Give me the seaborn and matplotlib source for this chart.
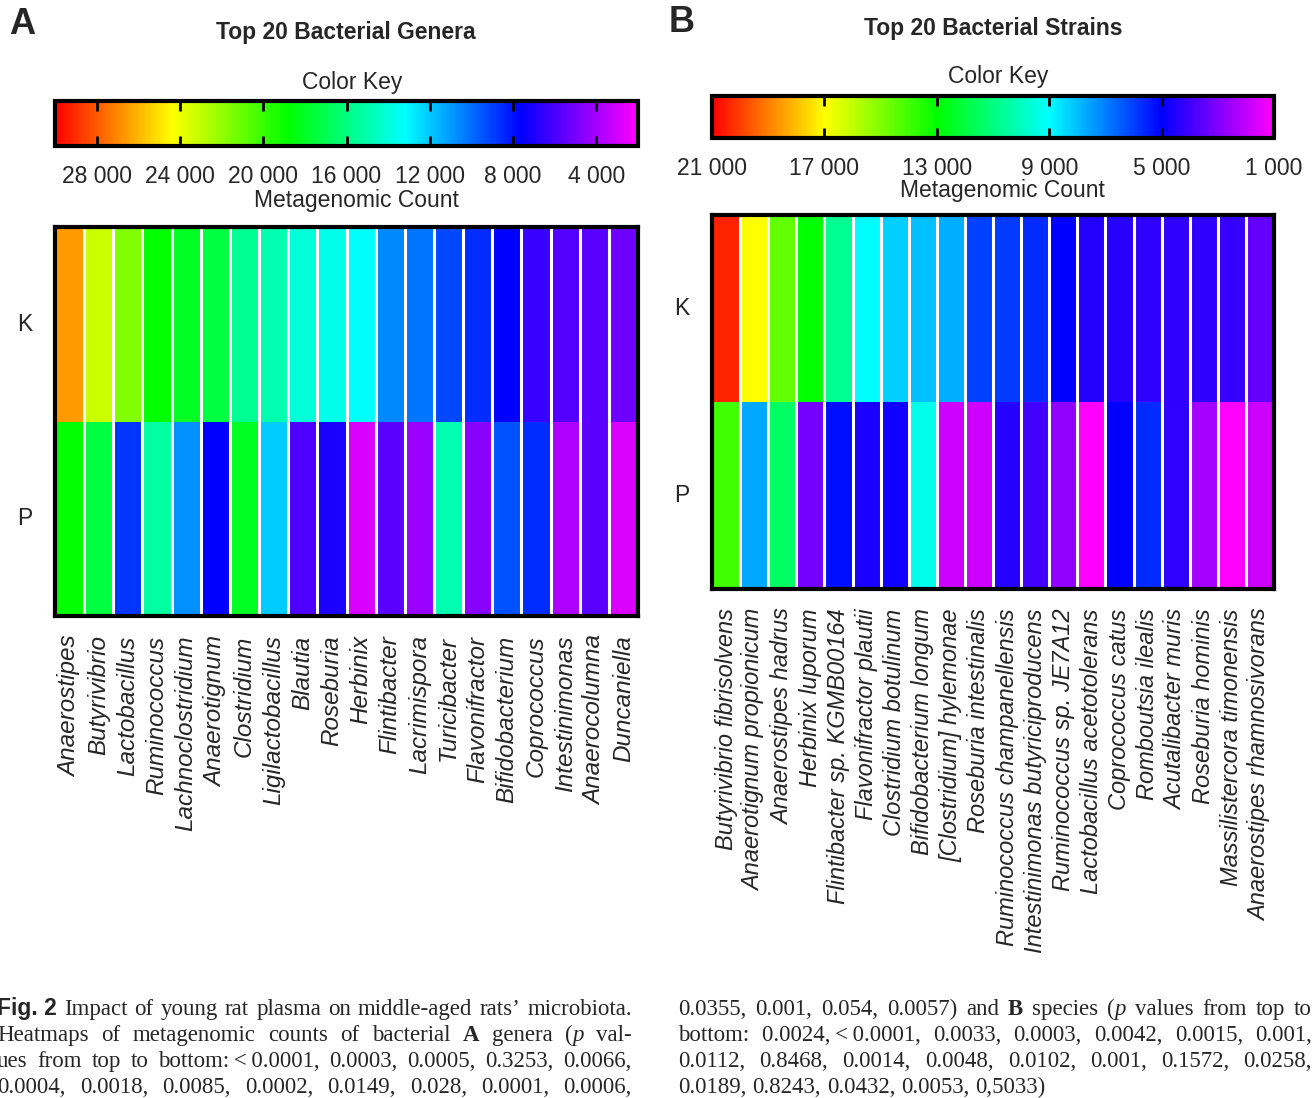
import numpy as np
import pandas as pd
import matplotlib
matplotlib.use("Agg")
import matplotlib.pyplot as plt
import seaborn as sns
from matplotlib.colors import ListedColormap, Normalize, hsv_to_rgb
from matplotlib.cm import ScalarMappable

# ---------------- data ----------------
rows = ["K", "P"]

genera = ["Anaerostipes", "Butyrivibrio", "Lactobacillus", "Ruminococcus",
          "Lachnoclostridium", "Anaerotignum", "Clostridium", "Ligilactobacillus",
          "Blautia", "Roseburia", "Herbinix", "Flintibacter", "Lacrimispora",
          "Turicibacter", "Flavonifractor", "Bifidobacterium", "Coprococcus",
          "Intestinimonas", "Anaerocolumna", "Duncaniella"]
genera_K = [26600, 23200, 21600, 18800, 18050, 17400, 15600, 15000, 14050, 13650,
            13200, 10600, 10200, 9200, 8600, 7600, 6400, 5800, 5650, 5200]
genera_P = [18800, 17400, 8800, 15250, 10750, 7600, 18050, 12100, 5900, 7050,
            2850, 5650, 4250, 14950, 4600, 9400, 8600, 3850, 5650, 2850]

strains = ["Butyrivibrio fibrisolvens", "Anaerotignum propionicum", "Anaerostipes hadrus",
           "Herbinix luporum", "Flintibacter sp. KGMB00164", "Flavonifractor plautii",
           "Clostridium botulinum", "Bifidobacterium longum", "[Clostridium] hylemonae",
           "Roseburia intestinalis", "Ruminococcus champanellensis",
           "Intestinimonas butyriciproducens", "Ruminococcus sp. JE7A12",
           "Lactobacillus acetotolerans", "Coprococcus catus", "Romboutsia ilealis",
           "Acutalibacter muris", "Roseburia hominis", "Massilistercora timonensis",
           "Anaerostipes rhamnosivorans"]
strains_K = [20450, 17000, 14550, 13000, 10750, 9000, 8250, 8000, 7750, 6000,
             5900, 5650, 5000, 4450, 4400, 4300, 4250, 4250, 4200, 3450]
strains_P = [14000, 7650, 11450, 3150, 5250, 4600, 4750, 9350, 1800, 1800,
             4450, 4000, 2750, 1000, 5000, 5650, 4250, 2450, 1000, 1800]

ticks_A = [28000, 24000, 20000, 16000, 12000, 8000, 4000]
ticks_B = [21000, 17000, 13000, 9000, 5000, 1000]
range_A = (2000, 30000)
range_B = (1000, 21000)

# ---------------- style ----------------
sns.set_style("white")
plt.rcParams['font.family'] = ['Liberation Sans', 'DejaVu Sans']
FS = 16.5

W, H = 1314, 1098
fig = plt.figure(figsize=(W / 100, H / 100), dpi=100)

hues = np.linspace(5 / 6, 0, 512)
cmap = ListedColormap(hsv_to_rgb(np.stack([hues, np.ones_like(hues), np.ones_like(hues)], axis=1)))


def box(x0, y0, x1, y1):
    return [x0 / W, 1 - y1 / H, (x1 - x0) / W, (y1 - y0) / H]


def fx(x):
    return x / W


def fy(y):
    return 1 - y / H


def fmt(v):
    return f"{v:,}".replace(",", " ")


def panel(letter, letter_xy, title, title_xy, ck_xy, mc_xy, cbox, hbox,
          ticks, vrange, names, K, P, xpad, xfs):
    fig.text(fx(letter_xy[0]), fy(letter_xy[1]), letter, fontsize=26,
             fontweight='bold', ha='center', va='center')
    fig.text(fx(title_xy[0]), fy(title_xy[1]), title, fontsize=16.5,
             fontweight='bold', ha='center', va='center')
    fig.text(fx(ck_xy[0]), fy(ck_xy[1]), "Color Key", fontsize=FS,
             ha='center', va='center')
    fig.text(fx(mc_xy[0]), fy(mc_xy[1]), "Metagenomic Count", fontsize=FS,
             ha='center', va='center')

    cax = fig.add_axes(box(*cbox))
    norm = Normalize(*vrange)
    cb = fig.colorbar(ScalarMappable(norm=norm, cmap=cmap), cax=cax,
                      orientation='horizontal')
    cb.set_ticks(ticks, labels=[fmt(t) for t in ticks])
    cb.ax.invert_xaxis()
    cb.outline.set_linewidth(3)
    cb.outline.set_edgecolor('black')
    cax.set_axisbelow(False)
    cax.tick_params(axis='x', direction='in', length=7, width=2, color='black',
                    top=True, bottom=True, labelbottom=True, labeltop=False,
                    pad=14, labelsize=FS)

    df = pd.DataFrame([K, P], index=rows, columns=names)
    ax = fig.add_axes(box(*hbox))
    sns.heatmap(df, ax=ax, cmap=cmap, vmin=vrange[0], vmax=vrange[1],
                cbar=False, linewidths=0)
    ax.vlines(np.arange(1, len(names)), 0, len(rows), colors='white', linewidth=2.2)
    for s in ax.spines.values():
        s.set_visible(True)
        s.set_linewidth(3)
        s.set_color('black')
    ax.set_xticks(np.arange(len(names)) + 0.5)
    ax.set_xticklabels(names, rotation=90, fontstyle='italic', fontsize=xfs)
    ax.set_yticks(np.arange(len(rows)) + 0.5)
    ax.set_yticklabels(rows, rotation=0, fontsize=FS)
    ax.tick_params(axis='x', length=0, pad=xpad)
    ax.tick_params(axis='y', length=0, pad=16)
    ax.set_xlabel('')
    ax.set_ylabel('')


panel("A", (22, 25), "Top 20 Bacterial Genera", (346, 32), (352, 83), (356, 201),
      (55, 101, 638, 146), (55, 227, 638, 616), ticks_A, range_A,
      genera, genera_K, genera_P, 14, 17.5)
panel("B", (682, 22), "Top 20 Bacterial Strains", (993, 29), (998, 77), (1002, 191),
      (712, 96, 1274, 138), (712, 215, 1274, 589), ticks_B, range_B,
      strains, strains_K, strains_P, 14, 17)

# ---------------- caption ----------------
CFS = 16.5
styles = {
    'n': dict(family=['Liberation Serif', 'DejaVu Serif'], fontsize=CFS),
    'b': dict(family=['Liberation Serif', 'DejaVu Serif'], fontsize=CFS, fontweight='bold'),
    'i': dict(family=['Liberation Serif', 'DejaVu Serif'], fontsize=CFS, fontstyle='italic'),
    'fs': dict(family=['Liberation Sans', 'DejaVu Sans'], fontsize=CFS, fontweight='bold'),
}
renderer = fig.canvas.get_renderer()


def seg_w(s, st):
    t = fig.text(0, 0, s, **styles[st])
    w = t.get_window_extent(renderer).width
    t.remove()
    return w


def words_of(text):
    return [[(w, 'n')] for w in text.split(' ')]


def draw_line(words, x0, x1, base, justify=True):
    widths = [sum(seg_w(s, st) for s, st in w) for w in words]
    space = seg_w('a a', 'n') - seg_w('aa', 'n')
    if justify and len(words) > 1:
        gap = (x1 - x0 - sum(widths)) / (len(words) - 1)
    else:
        gap = space
    x = x0
    for w, wd in zip(words, widths):
        xx = x
        for s, st in w:
            fig.text(fx(xx), fy(base), s, ha='left', va='baseline', **styles[st])
            xx += seg_w(s, st)
        x += wd + gap


TS = "\u2009"
left_lines = [
    [[("Fig. 2", 'fs')]] + words_of("Impact of young rat plasma on middle-aged rats\u2019 microbiota."),
    words_of("Heatmaps of metagenomic counts of bacterial") + [[("A", 'b')]] +
    words_of("genera") + [[("(", 'n'), ("p", 'i')]] + words_of("val-"),
    words_of("ues from top to") + [[("bottom:" + TS + "<" + TS + "0.0001,", 'n')]] +
    words_of("0.0003, 0.0005, 0.3253, 0.0066,"),
    words_of("0.0004, 0.0018, 0.0085, 0.0002, 0.0149, 0.028, 0.0001, 0.0006,"),
]
right_lines = [
    words_of("0.0355, 0.001, 0.054, 0.0057) and") + [[("B", 'b')]] +
    words_of("species") + [[("(", 'n'), ("p", 'i')]] + words_of("values from top to"),
    words_of("bottom:") + [[("0.0024," + TS + "<" + TS + "0.0001,", 'n')]] +
    words_of("0.0033, 0.0003, 0.0042, 0.0015, 0.001,"),
    words_of("0.0112, 0.8468, 0.0014, 0.0048, 0.0102, 0.001, 0.1572, 0.0258,"),
    words_of("0.0189, 0.8243, 0.0432, 0.0053, 0,5033)"),
]
bases = [1015, 1041, 1067, 1093]
for i, ln in enumerate(left_lines):
    draw_line(ln, -3, 632, bases[i])
for i, ln in enumerate(right_lines):
    draw_line(ln, 678, 1312, bases[i], justify=(i < 3))

fig.savefig("out.png", dpi=100)
